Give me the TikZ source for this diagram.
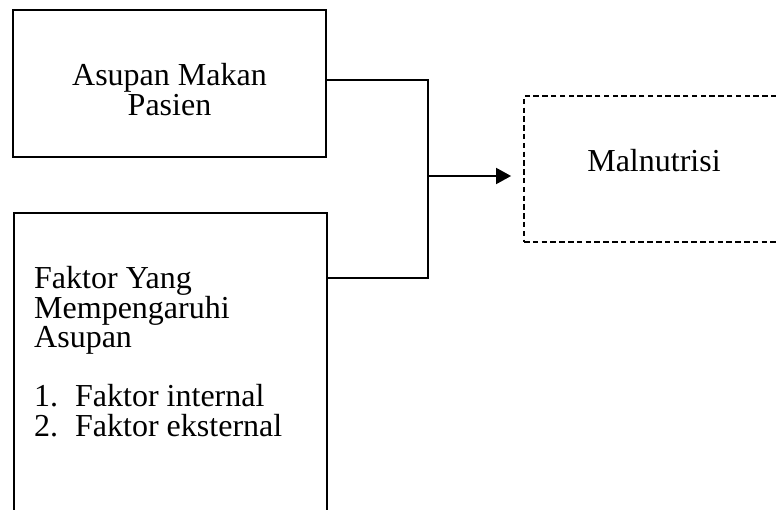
\documentclass[tikz,border=0pt]{standalone}
\usepackage{fontspec}
\setmainfont{Liberation Serif}
\usepackage{tikz}
\usetikzlibrary{arrows.meta, positioning}

\begin{document}
\begin{tikzpicture}[x=1pt, y=-1pt,
    box/.style={draw, line width=1.8pt, minimum width=313pt, inner sep=0pt},
    txt/.style={inner sep=0pt, anchor=base west, font=\fontsize{32}{29.5}\selectfont},
    rel/.style={draw, line width=1.8pt, -{Triangle[length=15pt, width=16pt]}}
]
    \useasboundingbox (0,0) rectangle (776,510);

    % left column
    \node[box, minimum height=147pt] (intake) at (169.5,83.5) {};
    \node[txt, anchor=base] (intaketxt) at (169.5,86)
        {\parbox[t]{300pt}{\centering Asupan Makan\\Pasien}};
    \node[box, minimum height=330pt, anchor=north west] (factor) at (13,212) {};
    \node[txt] (factortxt) at ([xshift=21pt, yshift=-77pt]factor.north west)
        {\parbox[t]{290pt}{Faktor Yang\\Mempengaruhi\\Asupan\\[29.5pt]
         1.\hspace{17pt}Faktor internal\\2.\hspace{17pt}Faktor eksternal}};

    % outcome
    \node[box, minimum width=260pt, minimum height=146pt, dash pattern=on 5.5pt off 3.3pt]
        (malnutrition) at (654,169) {};
    \node[txt, anchor=base] (malnutritiontxt) at (654,172) {Malnutrisi};

    % paths
    \coordinate (join) at (428,176);
    \draw[line width=1.8pt] ([yshift=3.5pt]intake.east) -| (join);
    \draw[line width=1.8pt] ([yshift=-66pt]factor.north east) -| (join);
    \draw[rel, shorten >=12pt] (join) -- (malnutrition.west |- join);

\end{tikzpicture}
\end{document}
